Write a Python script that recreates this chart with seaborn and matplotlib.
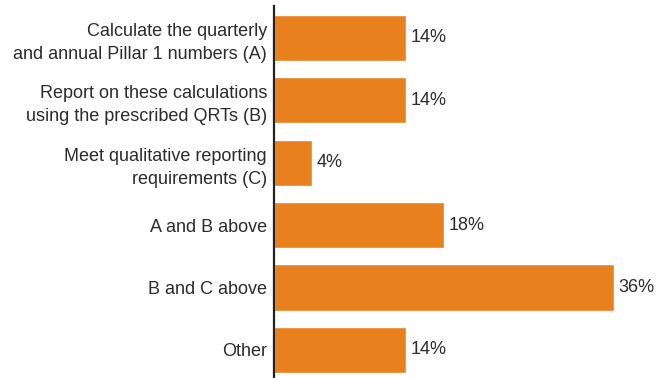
import matplotlib
matplotlib.use("Agg")
import matplotlib.pyplot as plt
import seaborn as sns
import pandas as pd

categories = [
    "Calculate the quarterly\nand annual Pillar 1 numbers (A)",
    "Report on these calculations\nusing the prescribed QRTs (B)",
    "Meet qualitative reporting\nrequirements (C)",
    "A and B above",
    "B and C above",
    "Other",
]
shares = [14, 14, 4, 18, 36, 14]
value_labels = ["14%", "14%", "4%", "18%", "36%", "14%"]

df = pd.DataFrame({"category": categories, "share": shares})

sns.set_theme(style="white")
plt.rcParams["font.family"] = ["Liberation Sans", "DejaVu Sans"]

fig = plt.figure(figsize=(6.59, 3.78), dpi=100)
ax = fig.add_axes([274 / 659, 0.0, 1 - 274 / 659, 372 / 378])

sns.barplot(data=df, x="share", y="category", color="#E8801E",
            saturation=1, width=0.74, ax=ax, orient="h")

text_color = "#2b2b2b"
fs = 13.0
for i, (v, lab) in enumerate(zip(shares, value_labels)):
    ax.text(v + 0.5, i, lab, va="center", ha="left", fontsize=fs,
            color=text_color)

ax.set_xlim(0, 40.8)
ax.set_ylim(5.45, -0.51)
ax.set_xlabel("")
ax.set_ylabel("")
ax.set_xticks([])
ax.tick_params(axis="y", length=0, pad=5, labelsize=fs, labelcolor=text_color)
for lbl in ax.get_yticklabels():
    lbl.set_multialignment("right")
    lbl.set_linespacing(1.45)

for side in ["top", "right", "bottom"]:
    ax.spines[side].set_visible(False)
ax.spines["left"].set_color("#222222")
ax.spines["left"].set_linewidth(1.6)

fig.savefig("out.png", dpi=100)
